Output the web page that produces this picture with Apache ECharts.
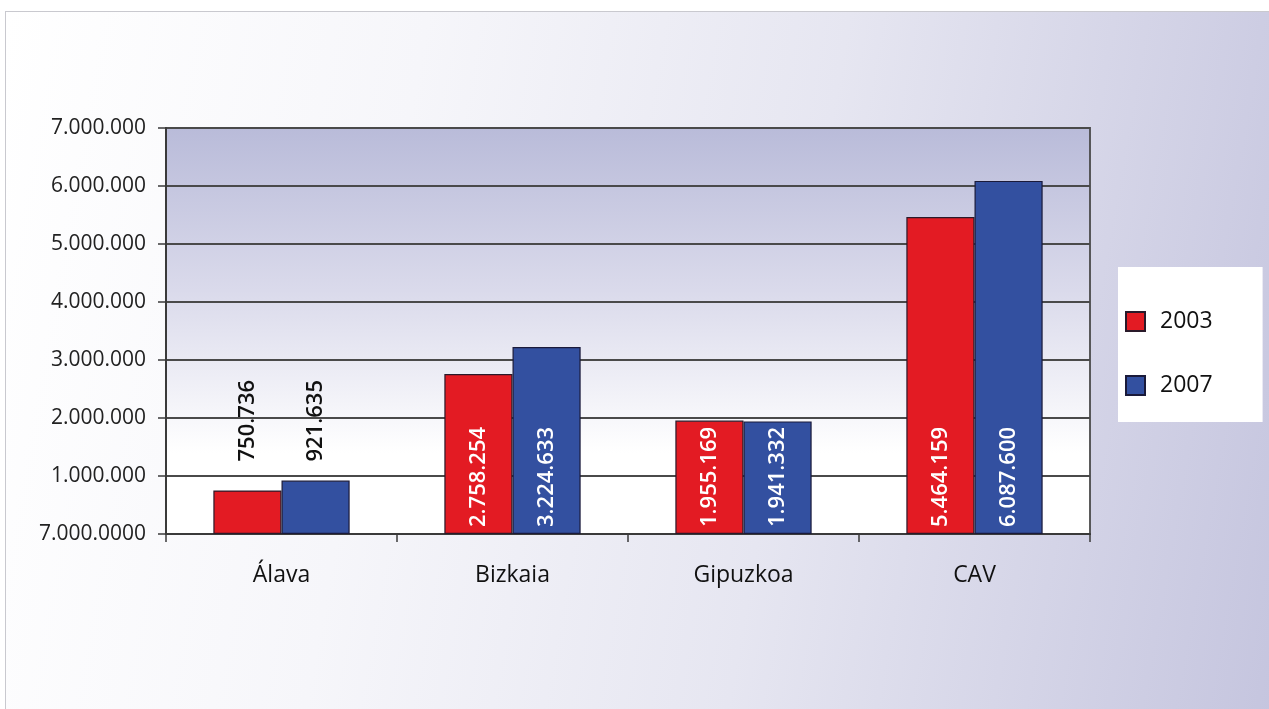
<!DOCTYPE html>
<html>
<head>
<meta charset="utf-8">
<script src="https://cdn.jsdelivr.net/npm/echarts@6/dist/echarts.min.js"></script>
<style>
html,body{margin:0;padding:0;background:#ffffff;width:1269px;height:709px;overflow:hidden;}
#frame{position:absolute;left:5px;top:11px;width:1280px;height:720px;border:1px solid #c9c9cf;
background:linear-gradient(100deg,#ffffff 0%,#f6f6fa 30%,#e6e6f1 60%,#c4c4de 100%);}
#chart{position:absolute;left:0;top:0;width:1269px;height:709px;}
</style>
</head>
<body>
<div id="frame"></div>
<div id="chart"></div>
<script>
var categories = ['Álava', 'Bizkaia', 'Gipuzkoa', 'CAV'];
var seriesNames = ['2003', '2007'];
var values2003 = [750736, 2758254, 1955169, 5464159];
var values2007 = [921635, 3224633, 1941332, 6087600];
var yTickLabels = ['7.000.0000', '1.000.000', '2.000.000', '3.000.000', '4.000.000', '5.000.000', '6.000.000', '7.000.000'];

var FONT = '"Open Sans", "Noto Sans", sans-serif';
function fmt(v) {
  return String(v).replace(/\B(?=(\d{3})+(?!\d))/g, '.');
}
var pxPerUnit = 406 / 7000000;
function buildData(vals) {
  return vals.map(function (v) {
    if (v < 1500000) {
      return {
        value: v,
        label: {
          position: 'top',
          color: '#111111',
          distance: Math.round((1250000 - v) * pxPerUnit)
        }
      };
    }
    return { value: v };
  });
}
var labelBase = {
  show: true,
  rotate: 90,
  position: 'insideBottom',
  align: 'left',
  verticalAlign: 'middle',
  distance: 7,
  color: '#ffffff',
  fontFamily: FONT,
  fontSize: 22,
  fontWeight: 600,
  formatter: function (p) { return fmt(p.value); }
};

var chart = echarts.init(document.getElementById('chart'), null, { renderer: 'canvas' });
chart.setOption({
  backgroundColor: 'transparent',
  animation: false,
  grid: {
    left: 166, right: 179, top: 128, bottom: 175,
    show: true,
    borderColor: '#4a4a4a',
    borderWidth: 1.8,
    backgroundColor: new echarts.graphic.LinearGradient(0, 0, 0, 1, [
      { offset: 0, color: '#b9bbd9' },
      { offset: 0.4, color: '#dadaeb' },
      { offset: 0.8, color: '#ffffff' },
      { offset: 1, color: '#ffffff' }
    ])
  },
  legend: {
    orient: 'vertical',
    left: 1118, top: 267,
    backgroundColor: '#ffffff',
    padding: [43, 50, 25, 7],
    itemWidth: 19, itemHeight: 19, itemGap: 41,
    icon: 'rect',
    textStyle: { fontFamily: FONT, fontSize: 23, color: '#111111', padding: [0, 0, 0, 10] },
    data: seriesNames
  },
  xAxis: {
    type: 'category',
    data: categories,
    axisLine: { lineStyle: { color: '#3a3a3a', width: 2 } },
    axisTick: { show: true, length: 8, lineStyle: { color: '#3a3a3a', width: 1.5 } },
    axisLabel: { margin: 30, fontFamily: FONT, fontSize: 23, color: '#111111' }
  },
  yAxis: {
    type: 'value',
    min: 0, max: 7000000, interval: 1000000,
    axisLine: { show: true, lineStyle: { color: '#3a3a3a', width: 2 } },
    axisTick: { show: true, length: 8, lineStyle: { color: '#3a3a3a', width: 1.5 } },
    splitLine: { lineStyle: { color: '#4a4a4a', width: 1.8 } },
    axisLabel: {
      margin: 20, fontFamily: FONT, fontSize: 21, color: '#222222',
      formatter: function (v) { return yTickLabels[Math.round(v / 1000000)]; }
    }
  },
  series: [
    {
      name: seriesNames[0], type: 'bar', data: buildData(values2003),
      barGap: '0%', barCategoryGap: '41%',
      itemStyle: { color: '#e31b23', borderColor: '#2a1a2a', borderWidth: 1.2 },
      label: labelBase
    },
    {
      name: seriesNames[1], type: 'bar', data: buildData(values2007),
      barGap: '0%', barCategoryGap: '41%',
      itemStyle: { color: '#3350a0', borderColor: '#1a1a3a', borderWidth: 1.2 },
      label: labelBase
    }
  ]
});
</script>
</body>
</html>
